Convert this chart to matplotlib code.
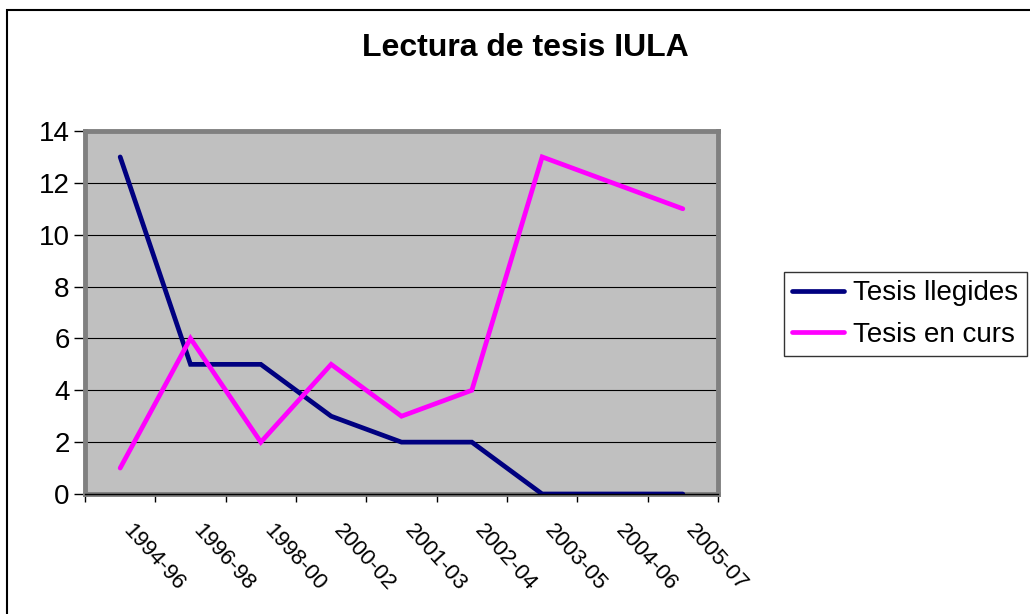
import matplotlib
matplotlib.use("Agg")
import matplotlib.pyplot as plt
from matplotlib.patches import Rectangle

categories = ["1994-96", "1996-98", "1998-00", "2000-02", "2001-03",
              "2002-04", "2003-05", "2004-06", "2005-07"]
tesis_llegides = [13, 5, 5, 3, 2, 2, 0, 0, 0]
tesis_en_curs = [1, 6, 2, 5, 3, 4, 13, 12, 11]
yticks = [0, 2, 4, 6, 8, 10, 12, 14]

plt.rcParams['font.family'] = ['Liberation Sans', 'DejaVu Sans']

W, H = 1030, 614
fig = plt.figure(figsize=(W / 100, H / 100), dpi=100)

# outer chart border (only top/left visible)
fig.add_artist(Rectangle((7 / W, -0.1), 1.2, 1 - 10 / H + 0.1,
                         transform=fig.transFigure, fill=False,
                         edgecolor='black', linewidth=1.5))

left, right, top, bottom = 85, 718, 131, 494
ax = fig.add_axes([left / W, 1 - bottom / H, (right - left) / W, (bottom - top) / H])
ax.set_facecolor('#C0C0C0')

x = list(range(len(categories)))
ax.plot(x, tesis_llegides, color='#000080', lw=3.4, solid_capstyle='round',
        solid_joinstyle='miter', label='Tesis llegides', zorder=3)
ax.plot(x, tesis_en_curs, color='#FF00FF', lw=3.4, solid_capstyle='round',
        solid_joinstyle='miter', label='Tesis en curs', zorder=3)

ax.set_xlim(-0.5, len(categories) - 0.5)
ax.set_ylim(0, 14)
ax.set_yticks(yticks)
ax.set_yticklabels([str(v) for v in yticks], fontsize=20)
ax.yaxis.grid(True, color='black', lw=0.8)
ax.set_axisbelow(True)

ax.set_xticks([i - 0.5 for i in range(len(categories) + 1)])
ax.set_xticklabels([])
ax.tick_params(axis='x', length=6, width=1, direction='out', color='black')
ax.tick_params(axis='y', length=8, width=1, direction='out', color='black', pad=3)

for i, c in enumerate(categories):
    ax.annotate(c, xy=(i, 0), xycoords='data', xytext=(10, -19),
                textcoords='offset points', rotation=-48, rotation_mode='anchor',
                ha='left', va='top', fontsize=16, annotation_clip=False)

for s in ['top', 'right', 'left', 'bottom']:
    ax.spines[s].set_color('#808080')
    ax.spines[s].set_linewidth(3.5)
ax.axhline(0, color='black', lw=1, zorder=4, clip_on=False)

fig.text(525 / W, 1 - 48 / H, 'Lectura de tesis IULA', ha='center', va='center',
         fontsize=23, fontweight='bold')

leg = fig.legend(loc='upper left', bbox_to_anchor=(784 / W, 1 - 272 / H),
                 fontsize=20, frameon=True, fancybox=False, handlelength=1.85,
                 handletextpad=0.35, borderpad=0.3, labelspacing=0.55,
                 borderaxespad=0)
leg.get_frame().set_edgecolor('black')
leg.get_frame().set_linewidth(1)

fig.savefig('out.png', dpi=100)
